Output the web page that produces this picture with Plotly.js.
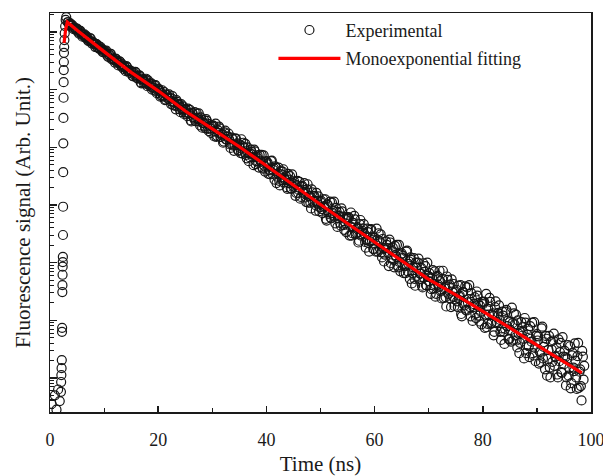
<!DOCTYPE html>
<html>
<head>
<meta charset="utf-8">
<script src="https://cdn.plot.ly/plotly-3.0.1.min.js"></script>
<style>html,body{margin:0;padding:0;background:#fff;}#chart{width:603px;height:476px;}</style>
</head>
<body>
<div id="chart"></div>
<script>
// ---- Data (signal stored as log10 of arbitrary units) ----
var preTime = [0.3, 0.6, 0.9, 1.2, 1.5, 1.8];
var preLog  = [-0.45, -0.70, -0.30, -0.55, -0.20, -0.40];

var riseTime = [2.02, 2.06, 2.10, 2.14, 2.18, 2.22, 2.24, 2.28, 2.30, 2.32, 2.34, 2.36, 2.38, 2.40, 2.42,
                2.44, 2.46, 2.48, 2.50, 2.52, 2.54, 2.56, 2.58, 2.62, 2.66, 2.72, 2.80, 2.90, 3.00];
var riseLog  = [-0.24, -0.07, 0.05, 0.17, 0.31, 0.80, 0.87, 1.49, 1.61, 1.79, 1.93, 2.01, 2.10, 2.48, 2.97,
                3.57, 4.07, 4.51, 4.86, 5.13, 5.34, 5.48, 5.64, 5.74, 5.86, 5.98, 6.10, 6.21, 6.26];

var decayTime = [3.25, 3.5, 3.75, 4, 4.25, 4.5, 4.75, 5,
  5.25, 5.5, 5.75, 6, 6.25, 6.5, 6.75, 7, 7.25, 7.5, 7.75, 8, 8.25, 8.5, 8.75, 9, 9.25, 9.5, 9.75, 10,
  10.25, 10.5, 10.75, 11, 11.25, 11.5, 11.75, 12, 12.25, 12.5, 12.75, 13, 13.25, 13.5, 13.75, 14, 14.25, 14.5, 14.75, 15,
  15.25, 15.5, 15.75, 16, 16.25, 16.5, 16.75, 17, 17.25, 17.5, 17.75, 18, 18.25, 18.5, 18.75, 19, 19.25, 19.5, 19.75, 20,
  20.25, 20.5, 20.75, 21, 21.25, 21.5, 21.75, 22, 22.25, 22.5, 22.75, 23, 23.25, 23.5, 23.75, 24, 24.25, 24.5, 24.75, 25,
  25.25, 25.5, 25.75, 26, 26.25, 26.5, 26.75, 27, 27.25, 27.5, 27.75, 28, 28.25, 28.5, 28.75, 29, 29.25, 29.5, 29.75, 30,
  30.25, 30.5, 30.75, 31, 31.25, 31.5, 31.75, 32, 32.25, 32.5, 32.75, 33, 33.25, 33.5, 33.75, 34, 34.25, 34.5, 34.75, 35,
  35.25, 35.5, 35.75, 36, 36.25, 36.5, 36.75, 37, 37.25, 37.5, 37.75, 38, 38.25, 38.5, 38.75, 39, 39.25, 39.5, 39.75, 40,
  40.25, 40.5, 40.75, 41, 41.25, 41.5, 41.75, 42, 42.25, 42.5, 42.75, 43, 43.25, 43.5, 43.75, 44, 44.25, 44.5, 44.75, 45,
  45.25, 45.5, 45.75, 46, 46.25, 46.5, 46.75, 47, 47.25, 47.5, 47.75, 48, 48.25, 48.5, 48.75, 49, 49.25, 49.5, 49.75, 50,
  50.25, 50.5, 50.75, 51, 51.25, 51.5, 51.75, 52, 52.25, 52.5, 52.75, 53, 53.25, 53.5, 53.75, 54, 54.25, 54.5, 54.75, 55,
  55.25, 55.5, 55.75, 56, 56.25, 56.5, 56.75, 57, 57.25, 57.5, 57.75, 58, 58.25, 58.5, 58.75, 59, 59.25, 59.5, 59.75, 60,
  60.25, 60.5, 60.75, 61, 61.25, 61.5, 61.75, 62, 62.25, 62.5, 62.75, 63, 63.25, 63.5, 63.75, 64, 64.25, 64.5, 64.75, 65,
  65.25, 65.5, 65.75, 66, 66.25, 66.5, 66.75, 67, 67.25, 67.5, 67.75, 68, 68.25, 68.5, 68.75, 69, 69.25, 69.5, 69.75, 70,
  70.25, 70.5, 70.75, 71, 71.25, 71.5, 71.75, 72, 72.25, 72.5, 72.75, 73, 73.25, 73.5, 73.75, 74, 74.25, 74.5, 74.75, 75,
  75.25, 75.5, 75.75, 76, 76.25, 76.5, 76.75, 77, 77.25, 77.5, 77.75, 78, 78.25, 78.5, 78.75, 79, 79.25, 79.5, 79.75, 80,
  80.25, 80.5, 80.75, 81, 81.25, 81.5, 81.75, 82, 82.25, 82.5, 82.75, 83, 83.25, 83.5, 83.75, 84, 84.25, 84.5, 84.75, 85,
  85.25, 85.5, 85.75, 86, 86.25, 86.5, 86.75, 87, 87.25, 87.5, 87.75, 88, 88.25, 88.5, 88.75, 89, 89.25, 89.5, 89.75, 90,
  90.25, 90.5, 90.75, 91, 91.25, 91.5, 91.75, 92, 92.25, 92.5, 92.75, 93, 93.25, 93.5, 93.75, 94, 94.25, 94.5, 94.75, 95,
  95.25, 95.5, 95.75, 96, 96.25, 96.5, 96.75, 97, 97.25, 97.5, 97.75, 98, 98.25, 98.5, 98.75];
var decayLog = [6.17, 6.14, 6.15, 6.11, 6.07, 6.08, 6.05, 6.06,
  6.00, 6.02, 5.98, 5.92, 5.95, 5.91, 5.93, 5.86, 5.86, 5.89, 5.80, 5.82, 5.79, 5.79, 5.73, 5.76, 5.70, 5.71, 5.65, 5.68,
  5.67, 5.62, 5.57, 5.60, 5.62, 5.53, 5.54, 5.47, 5.53, 5.47, 5.47, 5.48, 5.40, 5.39, 5.41, 5.32, 5.39, 5.34, 5.29, 5.32,
  5.24, 5.29, 5.31, 5.22, 5.19, 5.25, 5.13, 5.18, 5.18, 5.13, 5.19, 5.06, 5.11, 5.06, 5.11, 5.04, 4.99, 5.08, 4.94, 5.02,
  4.98, 4.90, 4.99, 4.90, 4.82, 4.91, 4.86, 4.92, 4.80, 4.85, 4.73, 4.78, 4.66, 4.79, 4.74, 4.66, 4.75, 4.65, 4.58, 4.65,
  4.58, 4.67, 4.59, 4.47, 4.60, 4.52, 4.61, 4.45, 4.49, 4.59, 4.38, 4.48, 4.42, 4.47, 4.33, 4.46, 4.32, 4.37, 4.25, 4.36,
  4.37, 4.28, 4.18, 4.30, 4.36, 4.18, 4.22, 4.08, 4.26, 4.14, 4.18, 4.24, 4.05, 4.06, 4.14, 3.94, 4.15, 4.04, 3.95, 4.05,
  3.90, 4.02, 4.08, 3.91, 3.87, 4.00, 3.76, 3.89, 3.92, 3.83, 3.96, 3.71, 3.83, 3.73, 3.87, 3.75, 3.65, 3.86, 3.58, 3.76,
  3.73, 3.61, 3.53, 3.77, 3.61, 3.44, 3.65, 3.49, 3.65, 3.34, 3.53, 3.58, 3.39, 3.44, 3.31, 3.54, 3.44, 3.29, 3.53, 3.32,
  3.36, 3.21, 3.42, 3.26, 3.11, 3.32, 3.22, 3.38, 3.13, 3.27, 3.04, 3.16, 2.94, 3.22, 3.15, 3.00, 3.21, 3.01, 2.89, 3.05,
  2.93, 3.10, 2.98, 2.76, 3.01, 2.87, 3.06, 2.77, 2.86, 3.06, 2.68, 2.88, 2.77, 2.88, 2.64, 2.89, 2.65, 2.76, 2.53, 2.76,
  2.78, 2.63, 2.47, 2.69, 2.81, 2.49, 2.59, 2.35, 2.67, 2.47, 2.55, 2.67, 2.36, 2.39, 2.53, 2.19, 2.57, 2.39, 2.24, 2.43,
  2.19, 2.40, 2.51, 2.24, 2.18, 2.41, 2.02, 2.25, 2.31, 2.17, 2.40, 1.99, 2.20, 2.05, 2.29, 2.10, 1.95, 2.31, 1.85, 2.16,
  2.12, 1.94, 1.82, 2.21, 1.98, 1.72, 2.05, 1.82, 2.08, 1.60, 1.91, 2.00, 1.71, 1.81, 1.60, 1.99, 1.84, 1.61, 2.00, 1.68,
  1.75, 1.54, 1.87, 1.63, 1.41, 1.75, 1.62, 1.86, 1.50, 1.72, 1.39, 1.58, 1.24, 1.70, 1.59, 1.38, 1.71, 1.41, 1.25, 1.50,
  1.33, 1.60, 1.43, 1.11, 1.49, 1.29, 1.59, 1.17, 1.31, 1.61, 1.07, 1.37, 1.23, 1.40, 1.04, 1.43, 1.08, 1.25, 0.93, 1.28,
  1.32, 1.10, 0.88, 1.20, 1.39, 0.94, 1.09, 0.74, 1.23, 0.95, 1.07, 1.26, 0.80, 0.86, 1.08, 0.59, 1.15, 0.90, 0.68, 0.97,
  0.63, 0.95, 1.12, 0.74, 0.65, 1.00, 0.43, 0.79, 0.88, 0.68, 1.04, 0.43, 0.75, 0.55, 0.90, 0.63, 0.43, 0.97, 0.29, 0.76,
  0.72, 0.46, 0.27, 0.89, 0.54, 0.15, 0.68, 0.33, 0.73, 0.01, 0.49, 0.65, 0.21, 0.37, 0.06, 0.67, 0.45, 0.10, 0.71, 0.24,
  0.36, 0.01, 0.57, 0.17, -0.18, 0.39, 0.18, 0.60, 0.01, 0.38, -0.17, 0.15, -0.39, 0.37, 0.21];

// second interleaved set of channels (half-step offsets)
var decayTime2 = [3.375, 3.625, 3.875, 4.125, 4.375, 4.625, 4.875,
  5.125, 5.375, 5.625, 5.875, 6.125, 6.375, 6.625, 6.875, 7.125, 7.375, 7.625, 7.875, 8.125, 8.375, 8.625, 8.875, 9.125, 9.375, 9.625, 9.875,
  10.125, 10.375, 10.625, 10.875, 11.125, 11.375, 11.625, 11.875, 12.125, 12.375, 12.625, 12.875, 13.125, 13.375, 13.625, 13.875, 14.125, 14.375, 14.625, 14.875,
  15.125, 15.375, 15.625, 15.875, 16.125, 16.375, 16.625, 16.875, 17.125, 17.375, 17.625, 17.875, 18.125, 18.375, 18.625, 18.875, 19.125, 19.375, 19.625, 19.875,
  20.125, 20.375, 20.625, 20.875, 21.125, 21.375, 21.625, 21.875, 22.125, 22.375, 22.625, 22.875, 23.125, 23.375, 23.625, 23.875, 24.125, 24.375, 24.625, 24.875,
  25.125, 25.375, 25.625, 25.875, 26.125, 26.375, 26.625, 26.875, 27.125, 27.375, 27.625, 27.875, 28.125, 28.375, 28.625, 28.875, 29.125, 29.375, 29.625, 29.875,
  30.125, 30.375, 30.625, 30.875, 31.125, 31.375, 31.625, 31.875, 32.125, 32.375, 32.625, 32.875, 33.125, 33.375, 33.625, 33.875, 34.125, 34.375, 34.625, 34.875,
  35.125, 35.375, 35.625, 35.875, 36.125, 36.375, 36.625, 36.875, 37.125, 37.375, 37.625, 37.875, 38.125, 38.375, 38.625, 38.875, 39.125, 39.375, 39.625, 39.875,
  40.125, 40.375, 40.625, 40.875, 41.125, 41.375, 41.625, 41.875, 42.125, 42.375, 42.625, 42.875, 43.125, 43.375, 43.625, 43.875, 44.125, 44.375, 44.625, 44.875,
  45.125, 45.375, 45.625, 45.875, 46.125, 46.375, 46.625, 46.875, 47.125, 47.375, 47.625, 47.875, 48.125, 48.375, 48.625, 48.875, 49.125, 49.375, 49.625, 49.875,
  50.125, 50.375, 50.625, 50.875, 51.125, 51.375, 51.625, 51.875, 52.125, 52.375, 52.625, 52.875, 53.125, 53.375, 53.625, 53.875, 54.125, 54.375, 54.625, 54.875,
  55.125, 55.375, 55.625, 55.875, 56.125, 56.375, 56.625, 56.875, 57.125, 57.375, 57.625, 57.875, 58.125, 58.375, 58.625, 58.875, 59.125, 59.375, 59.625, 59.875,
  60.125, 60.375, 60.625, 60.875, 61.125, 61.375, 61.625, 61.875, 62.125, 62.375, 62.625, 62.875, 63.125, 63.375, 63.625, 63.875, 64.125, 64.375, 64.625, 64.875,
  65.125, 65.375, 65.625, 65.875, 66.125, 66.375, 66.625, 66.875, 67.125, 67.375, 67.625, 67.875, 68.125, 68.375, 68.625, 68.875, 69.125, 69.375, 69.625, 69.875,
  70.125, 70.375, 70.625, 70.875, 71.125, 71.375, 71.625, 71.875, 72.125, 72.375, 72.625, 72.875, 73.125, 73.375, 73.625, 73.875, 74.125, 74.375, 74.625, 74.875,
  75.125, 75.375, 75.625, 75.875, 76.125, 76.375, 76.625, 76.875, 77.125, 77.375, 77.625, 77.875, 78.125, 78.375, 78.625, 78.875, 79.125, 79.375, 79.625, 79.875,
  80.125, 80.375, 80.625, 80.875, 81.125, 81.375, 81.625, 81.875, 82.125, 82.375, 82.625, 82.875, 83.125, 83.375, 83.625, 83.875, 84.125, 84.375, 84.625, 84.875,
  85.125, 85.375, 85.625, 85.875, 86.125, 86.375, 86.625, 86.875, 87.125, 87.375, 87.625, 87.875, 88.125, 88.375, 88.625, 88.875, 89.125, 89.375, 89.625, 89.875,
  90.125, 90.375, 90.625, 90.875, 91.125, 91.375, 91.625, 91.875, 92.125, 92.375, 92.625, 92.875, 93.125, 93.375, 93.625, 93.875, 94.125, 94.375, 94.625, 94.875,
  95.125, 95.375, 95.625, 95.875, 96.125, 96.375, 96.625, 96.875, 97.125, 97.375, 97.625, 97.875, 98.125, 98.375, 98.625];
var decayLog2 = [6.17, 6.12, 6.12, 6.12, 6.05, 6.07, 6.03,
  6.04, 5.97, 6.02, 5.95, 5.95, 5.96, 5.90, 5.90, 5.84, 5.89, 5.83, 5.83, 5.80, 5.74, 5.79, 5.73, 5.72, 5.74, 5.70, 5.65,
  5.65, 5.68, 5.59, 5.61, 5.62, 5.53, 5.54, 5.51, 5.54, 5.50, 5.42, 5.49, 5.42, 5.44, 5.36, 5.39, 5.41, 5.32, 5.32, 5.33,
  5.31, 5.23, 5.25, 5.30, 5.20, 5.23, 5.24, 5.11, 5.17, 5.11, 5.17, 5.10, 5.16, 5.08, 5.10, 5.00, 5.03, 5.07, 4.97, 5.00,
  5.01, 4.88, 4.95, 4.88, 4.96, 4.83, 4.91, 4.84, 4.86, 4.75, 4.89, 4.78, 4.72, 4.82, 4.71, 4.75, 4.61, 4.68, 4.71, 4.61,
  4.66, 4.54, 4.59, 4.65, 4.45, 4.59, 4.50, 4.46, 4.59, 4.51, 4.45, 4.52, 4.34, 4.43, 4.36, 4.49, 4.41, 4.28, 4.33, 4.38,
  4.38, 4.19, 4.41, 4.20, 4.25, 4.33, 4.18, 4.23, 4.10, 4.29, 4.14, 4.19, 4.14, 3.99, 4.17, 4.03, 4.04, 4.15, 4.07, 3.94,
  3.99, 4.14, 3.89, 4.00, 4.06, 3.81, 3.90, 3.83, 3.96, 3.88, 3.69, 3.93, 3.76, 3.86, 3.65, 3.77, 3.87, 3.63, 3.68, 3.75,
  3.71, 3.54, 3.60, 3.76, 3.54, 3.64, 3.67, 3.38, 3.55, 3.42, 3.59, 3.43, 3.62, 3.45, 3.50, 3.28, 3.38, 3.50, 3.28, 3.38,
  3.41, 3.16, 3.34, 3.21, 3.40, 3.14, 3.33, 3.20, 3.26, 3.05, 3.36, 3.15, 3.04, 3.27, 3.06, 3.16, 2.90, 3.07, 3.15, 2.96,
  3.07, 2.86, 2.97, 3.10, 2.73, 3.00, 2.84, 2.78, 3.04, 2.90, 2.80, 2.95, 2.62, 2.81, 2.69, 2.94, 2.80, 2.57, 2.68, 2.79,
  2.79, 2.47, 2.87, 2.51, 2.61, 2.75, 2.51, 2.61, 2.38, 2.74, 2.49, 2.59, 2.50, 2.26, 2.59, 2.34, 2.37, 2.58, 2.45, 2.23,
  2.33, 2.59, 2.19, 2.38, 2.49, 2.09, 2.25, 2.14, 2.37, 2.25, 1.94, 2.35, 2.08, 2.26, 1.92, 2.13, 2.31, 1.92, 2.01, 2.14,
  2.08, 1.82, 1.94, 2.19, 1.85, 2.02, 2.09, 1.64, 1.92, 1.72, 2.00, 1.77, 2.07, 1.81, 1.91, 1.57, 1.74, 1.94, 1.60, 1.77,
  1.82, 1.46, 1.73, 1.55, 1.85, 1.46, 1.77, 1.58, 1.68, 1.38, 1.86, 1.56, 1.40, 1.76, 1.46, 1.62, 1.23, 1.50, 1.63, 1.36,
  1.53, 1.23, 1.41, 1.61, 1.07, 1.49, 1.26, 1.18, 1.57, 1.37, 1.23, 1.47, 0.99, 1.28, 1.11, 1.50, 1.30, 0.98, 1.15, 1.32,
  1.32, 0.87, 1.46, 0.94, 1.10, 1.32, 0.96, 1.12, 0.80, 1.33, 0.97, 1.13, 1.01, 0.66, 1.15, 0.80, 0.85, 1.18, 0.99, 0.67,
  0.83, 1.22, 0.65, 0.93, 1.10, 0.53, 0.77, 0.61, 0.97, 0.80, 0.34, 0.96, 0.57, 0.85, 0.36, 0.68, 0.96, 0.39, 0.52, 0.73,
  0.65, 0.25, 0.45, 0.86, 0.34, 0.62, 0.73, 0.04, 0.49, 0.18, 0.63, 0.28, 0.77, 0.37, 0.53, 0.01, 0.29, 0.61, 0.09, 0.37,
  0.47, -0.13, 0.34, 0.04, 0.55, -0.09, 0.43, 0.12, 0.30, -0.19, 0.61, 0.11, -0.14, 0.47, -0.03];

var fitTime = [2.6, 2.9, 3.2, 5, 10, 15, 20, 25, 30, 35, 40, 45, 50, 55, 60, 65, 70, 75, 80, 85, 90, 95, 98.3];
var fitLog  = [5.81, 6.05, 6.17, 6.03, 5.66, 5.30, 4.98, 4.63, 4.32, 4.01, 3.68, 3.34, 3.01, 2.68, 2.36,
               2.03, 1.71, 1.44, 1.16, 0.87, 0.57, 0.28, 0.09];

var xTickVals = [0, 20, 40, 60, 80, 100];
var xTickText = ['0', '20', '40', '60', '80', '100'];
var seriesNames = ['Experimental', 'Monoexponential fitting'];

// ---- Build traces ----
function toSignal(arr) { return arr.map(function (v) { return Math.pow(10, v); }); }
var expX = preTime.concat(riseTime, decayTime, decayTime2);
var expY = toSignal(preLog.concat(riseLog, decayLog, decayLog2));

var serif = 'Liberation Serif, Times New Roman, serif';
var ink = '#1a1a1a';

var traces = [
  {
    x: expX, y: expY, type: 'scatter', mode: 'markers', name: seriesNames[0],
    legendgroup: 'a',
    marker: { symbol: 'circle-open', size: 9, color: '#151515', line: { width: 1.2, color: '#151515' } }
  },
  {
    x: fitTime, y: toSignal(fitLog), type: 'scatter', mode: 'lines', name: seriesNames[1],
    legendgroup: 'b',
    line: { color: '#ff0000', width: 3.2 }
  }
];

var layout = {
  width: 603, height: 476,
  margin: { l: 50, r: 12, t: 13, b: 64 },
  paper_bgcolor: '#ffffff', plot_bgcolor: '#ffffff',
  font: { family: serif, color: ink, size: 18 },
  showlegend: true,
  legend: {
    x: 0.413, y: 1.003, xanchor: 'left', yanchor: 'top',
    bgcolor: 'rgba(0,0,0,0)', borderwidth: 0,
    font: { family: serif, size: 18, color: ink },
    itemwidth: 62, tracegroupgap: 2
  },
  xaxis: {
    range: [0, 100],
    tickmode: 'array', tickvals: xTickVals, ticktext: xTickText,
    ticks: 'inside', ticklen: 6, tickwidth: 1.5, tickcolor: ink,
    minor: { ticks: 'inside', ticklen: 4, tickwidth: 1.2, dtick: 10, tick0: 0, tickcolor: ink },
    showline: true, linecolor: ink, linewidth: 1.5, mirror: true,
    showgrid: false, zeroline: false,
    ticklabelstandoff: 11, ticklabeloverflow: 'allow',
    tickfont: { family: serif, size: 18, color: ink },
    title: { text: 'Time (ns)', font: { family: serif, size: 21, color: ink }, standoff: 13 }
  },
  yaxis: {
    type: 'log', range: [-0.59, 6.33],
    dtick: 1, showticklabels: false,
    ticks: 'inside', ticklen: 7, tickwidth: 1.3, tickcolor: ink,
    minor: { ticks: 'inside', ticklen: 4, tickwidth: 1, dtick: 'D1', tickcolor: ink },
    showline: true, linecolor: ink, linewidth: 1.5, mirror: true,
    showgrid: false, zeroline: false,
    title: { text: 'Fluorescence signal (Arb. Unit.)', font: { family: serif, size: 21, color: ink }, standoff: 12 }
  }
};

Plotly.newPlot('chart', traces, layout, { displayModeBar: false, staticPlot: true });
</script>
</body>
</html>
